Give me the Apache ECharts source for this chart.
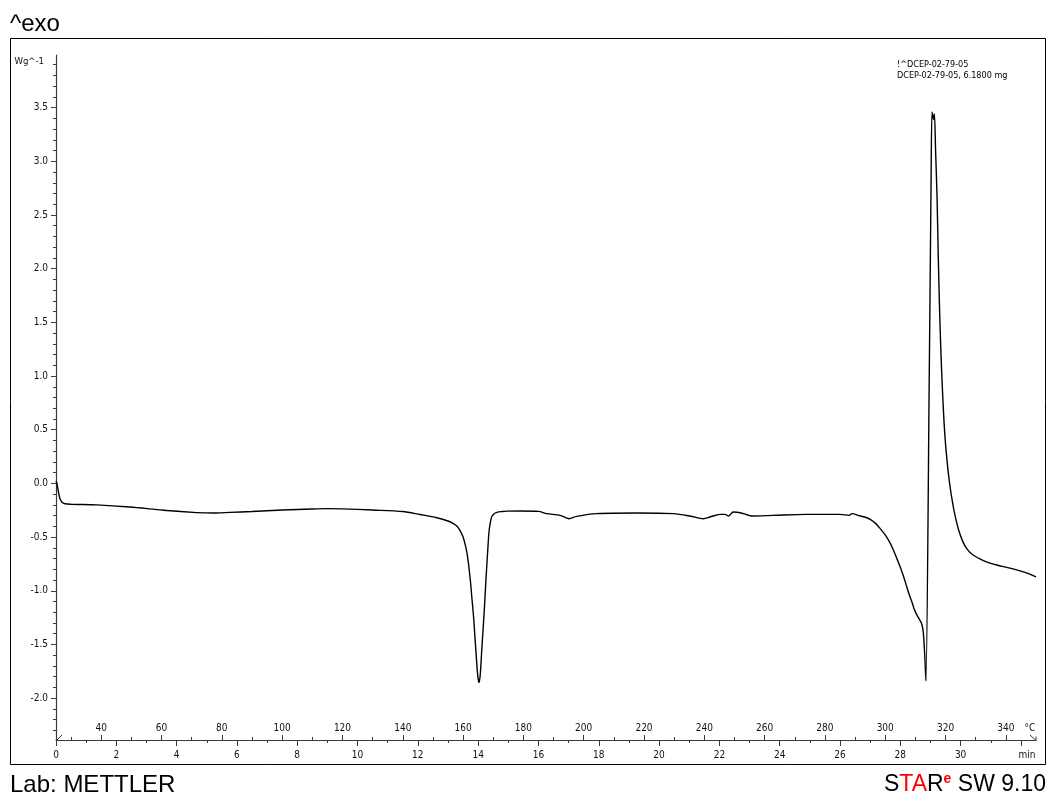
<!DOCTYPE html>
<html>
<head>
<meta charset="utf-8">
<script src="https://cdn.jsdelivr.net/npm/echarts@6/dist/echarts.min.js"></script>
<style>
  html, body { margin: 0; padding: 0; background: #ffffff; }
  #chart { width: 1051px; height: 801px; }
</style>
</head>
<body>
<div id="chart"></div>
<script>
// DSC run: heat flow (W/g, exo up) against time (min), heating at 10 °C/min from 25 °C
const timeMin = [
  0.00, 0.03, 0.08, 0.13, 0.20, 0.30, 0.50, 1.35, 2.45, 3.56,
  4.67, 5.22, 5.77, 6.50, 7.50, 8.50, 9.00, 9.50, 10.50, 11.50,
  12.07, 12.63, 13.00, 13.18, 13.30, 13.40, 13.50, 13.57, 13.63, 13.68,
  13.74, 13.79, 13.85, 13.90, 13.95, 13.99, 14.03, 14.07, 14.12, 14.17,
  14.21, 14.25, 14.29, 14.33, 14.36, 14.40, 14.45, 14.52, 14.62, 14.80,
  14.95, 15.39, 16.00, 16.27, 16.72, 17.01, 17.27, 17.93, 19.26, 20.47,
  21.03, 21.47, 21.69, 22.02, 22.19, 22.30, 22.46, 22.69, 22.91, 23.07,
  23.79, 24.90, 26.00, 26.31, 26.39, 26.67, 26.85, 27.00, 27.17, 27.33,
  27.50, 27.65, 27.77, 27.90, 28.00, 28.10, 28.20, 28.30, 28.38, 28.46,
  28.54, 28.62, 28.70, 28.76, 28.80, 28.83, 28.85, 28.96, 29.02, 29.05,
  29.08, 29.10, 29.13, 29.17, 29.22, 29.26, 29.31, 29.37, 29.43, 29.48,
  29.54, 29.60, 29.66, 29.71, 29.80, 29.93, 30.07, 30.21, 30.40, 30.65,
  30.90, 31.20, 31.60, 31.97, 32.25, 32.50
];
const heatFlow = [
  0.02, 0.00, -0.08, -0.14, -0.175, -0.19, -0.195, -0.20, -0.22, -0.25,
  -0.272, -0.276, -0.27, -0.262, -0.248, -0.238, -0.235, -0.237, -0.248, -0.262,
  -0.29, -0.32, -0.35, -0.375, -0.40, -0.44, -0.50, -0.57, -0.65, -0.75,
  -0.90, -1.06, -1.25, -1.46, -1.66, -1.80, -1.855, -1.78, -1.55, -1.33,
  -1.15, -0.94, -0.75, -0.57, -0.45, -0.37, -0.31, -0.285, -0.27, -0.262,
  -0.258, -0.257, -0.261, -0.282, -0.298, -0.329, -0.307, -0.282, -0.276, -0.282,
  -0.304, -0.329, -0.313, -0.289, -0.289, -0.304, -0.267, -0.273, -0.292, -0.304,
  -0.298, -0.289, -0.289, -0.298, -0.282, -0.304, -0.315, -0.335, -0.37, -0.42,
  -0.48, -0.55, -0.62, -0.71, -0.78, -0.86, -0.95, -1.04, -1.10, -1.17,
  -1.22, -1.26, -1.30, -1.38, -1.55, -1.72, -1.84, 1.00, 2.80, 3.46,
  3.42, 3.39, 3.44, 3.10, 2.65, 2.10, 1.54, 1.05, 0.68, 0.44,
  0.24, 0.08, -0.05, -0.14, -0.28, -0.43, -0.54, -0.61, -0.665, -0.705,
  -0.735, -0.76, -0.787, -0.815, -0.84, -0.87
];

// Axis ticks and labels
const yTicks = [-2.0, -1.5, -1.0, -0.5, 0.0, 0.5, 1.0, 1.5, 2.0, 2.5, 3.0, 3.5];
const timeTicks = [0, 2, 4, 6, 8, 10, 12, 14, 16, 18, 20, 22, 24, 26, 28, 30, 32];
const timeMinorTicks = [1, 3, 5, 7, 9, 11, 13, 15, 17, 19, 21, 23, 25, 27, 29, 31];
const tempTicks = [40, 60, 80, 100, 120, 140, 160, 180, 200, 220, 240, 260, 280, 300, 320, 340];
const tempMinorTicks = [30, 50, 70, 90, 110, 130, 150, 170, 190, 210, 230, 250, 270, 290, 310, 330];
const sampleLines = ['!^DCEP-02-79-05', 'DCEP-02-79-05, 6.1800 mg'];

const T_START = 25;   // °C at t = 0
const RATE = 10;      // °C per min
const T_MAX = 32.5;   // min shown on the time axis

// minor heat-flow ticks every 0.1 W/g between the labelled ones
const yMinorTicks = [];
for (let i = -23; i <= 39; i++) {
  if (i % 5 !== 0) yMinorTicks.push(+(i / 10).toFixed(1));
}

const tickFont = "'DejaVu Sans Condensed', 'DejaVu Sans', sans-serif";
const axisGray = '#3a3a3a';
const labelGray = '#111111';

const curve = timeMin.map((t, i) => [t, heatFlow[i]]);

const chart = echarts.init(document.getElementById('chart'), null, { renderer: 'canvas' });

const option = {
  animation: false,
  backgroundColor: '#ffffff',
  grid: { left: 56, top: 55, width: 980, height: 685, containLabel: false, outerBoundsMode: 'none' },
  xAxis: [
    { // time, labelled ticks below the line
      type: 'value', min: 0, max: T_MAX, position: 'bottom',
      axisLine: { show: true, onZero: false, lineStyle: { color: axisGray, width: 1.2 } },
      axisTick: { show: true, customValues: timeTicks, length: 6, lineStyle: { color: axisGray } },
      axisLabel: {
        customValues: timeTicks, margin: 10, color: labelGray, fontFamily: tickFont, fontSize: 10,
        formatter: v => (v === 32 ? '{u|min}' : String(v)),
        rich: { u: { color: labelGray, fontFamily: tickFont, fontSize: 10, padding: [0, 0, 0, 12] } }
      },
      splitLine: { show: false }
    },
    { // temperature, labelled ticks above the line
      type: 'value', min: T_START, max: T_START + RATE * T_MAX, position: 'bottom',
      axisLine: { show: false, onZero: false },
      axisTick: { show: true, inside: true, customValues: tempTicks, length: 5, lineStyle: { color: axisGray } },
      axisLabel: { inside: true, customValues: tempTicks, margin: 7, color: labelGray, fontFamily: tickFont, fontSize: 10 },
      splitLine: { show: false }
    },
    { // time minor ticks
      type: 'value', min: 0, max: T_MAX, position: 'bottom',
      axisLine: { show: false, onZero: false },
      axisTick: { show: true, customValues: timeMinorTicks, length: 3, lineStyle: { color: axisGray } },
      axisLabel: { show: false },
      splitLine: { show: false }
    },
    { // temperature minor ticks
      type: 'value', min: T_START, max: T_START + RATE * T_MAX, position: 'bottom',
      axisLine: { show: false, onZero: false },
      axisTick: { show: true, inside: true, customValues: tempMinorTicks, length: 3, lineStyle: { color: axisGray } },
      axisLabel: { show: false },
      splitLine: { show: false }
    }
  ],
  yAxis: [
    {
      type: 'value', min: -2.39, max: 3.99, position: 'left',
      axisLine: { show: true, onZero: false, lineStyle: { color: axisGray, width: 1.2 } },
      axisTick: { show: true, customValues: yTicks, length: 5, lineStyle: { color: axisGray } },
      axisLabel: {
        customValues: yTicks, margin: 8, color: labelGray, fontFamily: tickFont, fontSize: 10,
        formatter: v => v.toFixed(1)
      },
      splitLine: { show: false }
    },
    {
      type: 'value', min: -2.39, max: 3.99, position: 'left',
      axisLine: { show: false, onZero: false },
      axisTick: { show: true, customValues: yMinorTicks, length: 3, lineStyle: { color: axisGray } },
      axisLabel: { show: false },
      splitLine: { show: false }
    }
  ],
  series: [
    {
      type: 'line',
      xAxisIndex: 0,
      yAxisIndex: 0,
      data: curve,
      showSymbol: false,
      smooth: 0.3,
      lineStyle: { color: '#000000', width: 1.4 },
      z: 5
    }
  ],
  graphic: [
    // outer frame
    { type: 'rect', shape: { x: 10.5, y: 38.5, width: 1035, height: 726 },
      style: { fill: 'none', stroke: '#000000', lineWidth: 1 }, z: 1 },
    // exo-up marker
    { type: 'text', x: 10, y: 24,
      style: { text: '^exo', fill: '#000000', font: '24px "Liberation Sans", Arial, sans-serif', textVerticalAlign: 'middle' } },
    // heat-flow unit
    { type: 'text', x: 44, y: 62,
      style: { text: 'Wg^-1', fill: labelGray, font: '9.5px ' + tickFont, textAlign: 'right', textVerticalAlign: 'middle' } },
    // sample identification
    { type: 'text', x: 897, y: 65,
      style: { text: sampleLines[0], fill: '#000000', font: '9px ' + tickFont, textVerticalAlign: 'middle' } },
    { type: 'text', x: 897, y: 76,
      style: { text: sampleLines[1], fill: '#000000', font: '9px ' + tickFont, textVerticalAlign: 'middle' } },
    // temperature unit and axis-end arrow
    { type: 'text', x: 1030, y: 728,
      style: { text: '°C', fill: labelGray, font: '10px ' + tickFont, textAlign: 'center', textVerticalAlign: 'middle' } },
    { type: 'polyline', shape: { points: [[1030, 735], [1036, 740.5]] },
      style: { stroke: axisGray, lineWidth: 1, fill: 'none' } },
    { type: 'polyline', shape: { points: [[1032, 740.5], [1036, 740.5], [1036, 736.5]] },
      style: { stroke: axisGray, lineWidth: 1, fill: 'none' } },
    // origin mark
    { type: 'polyline', shape: { points: [[56.5, 740.5], [62, 735]] },
      style: { stroke: axisGray, lineWidth: 1, fill: 'none' } },
    // footer
    { type: 'text', x: 10, y: 785,
      style: { text: 'Lab: METTLER', fill: '#000000', font: '24px "Liberation Sans", Arial, sans-serif', textVerticalAlign: 'middle' } },
    { type: 'text', x: 1046, y: 785,
      style: {
        text: '{k|S}{r|TA}{k|R}{e|e}{k| SW 9.10}',
        textAlign: 'right', textVerticalAlign: 'middle',
        rich: {
          k: { fill: '#000000', fontSize: 23, fontFamily: '"Liberation Sans", Arial, sans-serif', lineHeight: 26 },
          r: { fill: '#ff0000', fontSize: 23, fontFamily: '"Liberation Sans", Arial, sans-serif', lineHeight: 26 },
          e: { fill: '#ff0000', fontSize: 14, fontWeight: 'bold', fontFamily: '"Liberation Sans", Arial, sans-serif', verticalAlign: 'top', lineHeight: 26 }
        }
      } }
  ]
};

chart.setOption(option);
</script>
</body>
</html>
